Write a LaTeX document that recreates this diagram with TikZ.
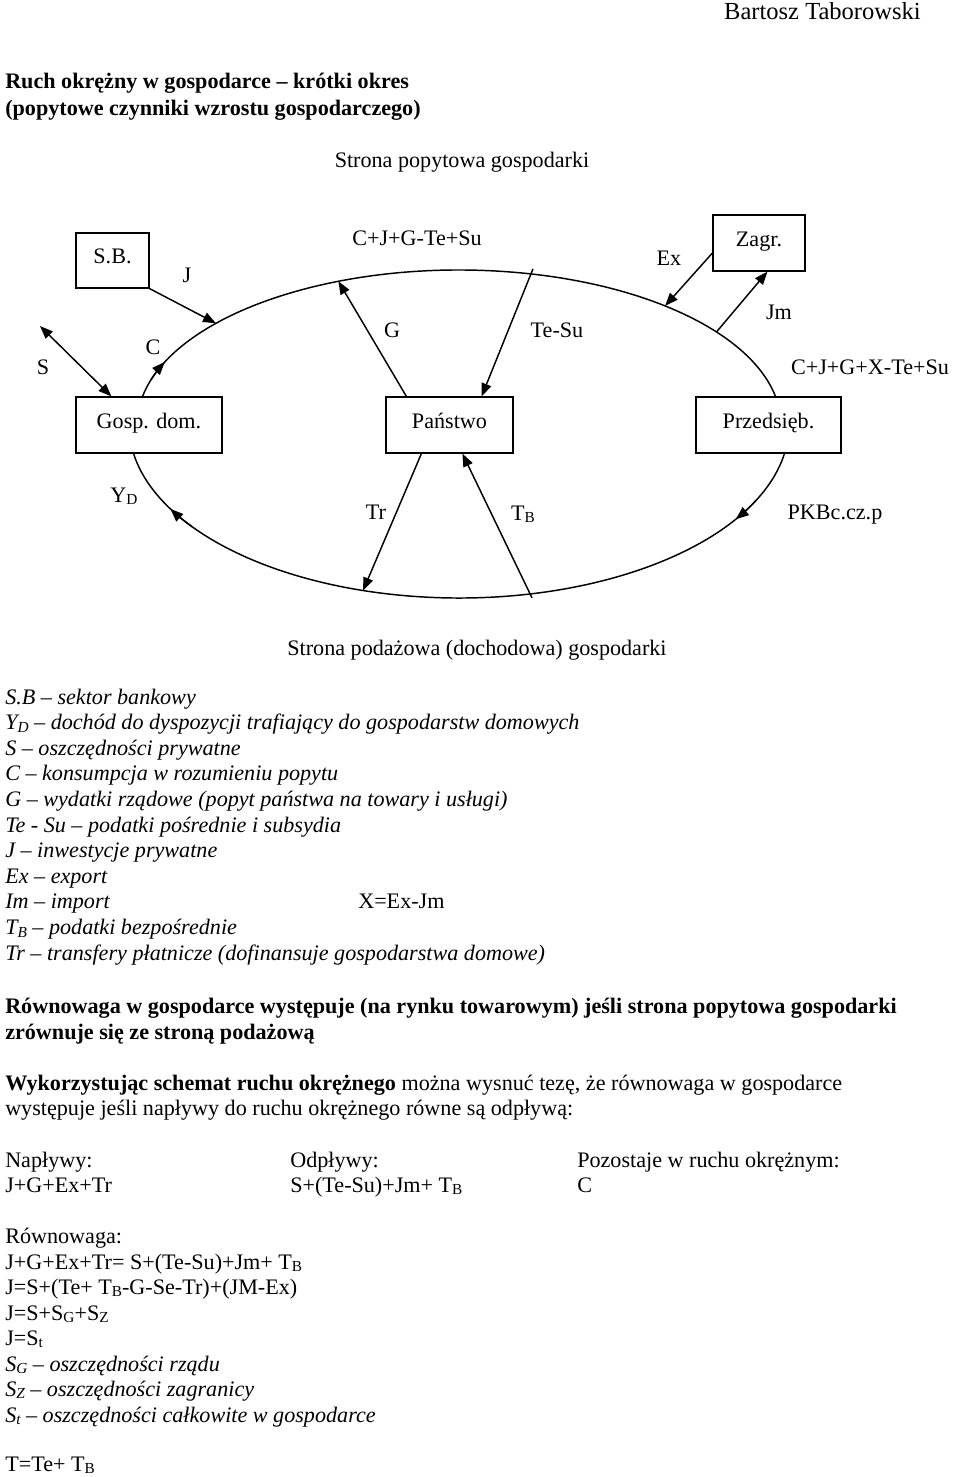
\documentclass[tikz,border=0pt]{standalone}
\usepackage{fontspec}
\setmainfont{Liberation Serif}
\usetikzlibrary{arrows.meta,calc}
\newcommand\lowr[1]{\raisebox{-0.28ex}{\fontsize{11.5}{12}\selectfont #1}}
\begin{document}
\begin{tikzpicture}[x=0.75pt,y=-0.75pt,
  font=\fontsize{16.6}{19.1}\selectfont,
  flow/.style={line width=1.1pt},
  arr/.style={line width=1.1pt,-{Triangle[length=9.75pt,width=7.5pt]}},
  dbl/.style={line width=1.1pt,{Triangle[length=9.75pt,width=7.5pt]}-{Triangle[length=9.75pt,width=7.5pt]}},
  box/.style={draw,line width=0.9pt,inner sep=0pt,minimum height=42pt,text height=10pt,text depth=5pt},
  lbl/.style={anchor=base,inner sep=0pt},
  txt/.style={anchor=base west,inner sep=0pt},
  ]
\useasboundingbox (0,0) rectangle (960,1477);
% header
\node[anchor=base east,inner sep=0pt,font=\fontsize{18.4}{21}\selectfont] (author) at (921,20) {Bartosz Taborowski};
\node[txt] (t1) at (5,89) {\bfseries Ruch okrężny w gospodarce – krótki okres};
\node[txt] (t2) at (5,115) {\bfseries (popytowe czynniki wzrostu gospodarczego)};
\node[lbl] (popyt) at (462,167) {Strona popytowa gospodarki};
% boxes
\node[box,minimum width=54.75pt,minimum height=41.25pt] (sb) at (112.5,260.5) {S.B.};
\node[box,minimum width=69pt] (zg) at (759,243) {Zagr.};
\node[box,minimum width=109.5pt] (gd) at (149,425) {Gosp. dom.};
\node[box,minimum width=95.25pt] (pa) at (449.5,425) {Państwo};
\node[box,minimum width=108.75pt] (pr) at (768.5,425) {Przedsięb.};
% points on the circular flow
\coordinate (ctr) at (459,425);
\coordinate (eGD) at ($(ctr)+(190.4:322 and 155)$);
\coordinate (eCs) at ($(ctr)+(197:322 and 155)$);
\coordinate (eJ)  at ($(ctr)+(221:322 and 155)$);
\coordinate (eG)  at ($(ctr)+(248:322 and 155)$);
\coordinate (eTS) at ($(ctr)+(283:322 and 155)$);
\coordinate (eEx) at ($(ctr)+(309.8:322 and 155)$);
\coordinate (eJm) at ($(ctr)+(323.1:322 and 155)$);
\coordinate (ePRb) at ($(ctr)+(9.3:330 and 173)$);
\coordinate (ePKBs) at ($(ctr)+(26:330 and 173)$);
\coordinate (eTB) at ($(ctr)+(77.4:330 and 173)$);
\coordinate (eTr) at ($(ctr)+(106.9:330 and 173)$);
\coordinate (eYDs) at ($(ctr)+(144:330 and 173)$);
\coordinate (sfree) at (40,326);
% circular flow arcs
\draw[flow] (eGD) arc[start angle=190.4,end angle=349.6,x radius=322,y radius=155];
\draw[arr] (eCs) arc[start angle=197,end angle=204,x radius=322,y radius=155];
\draw[flow] (ePRb) arc[start angle=9.3,end angle=170.7,x radius=330,y radius=173];
\draw[arr] (ePKBs) arc[start angle=26,end angle=33,x radius=330,y radius=173];
\draw[arr] (eYDs) arc[start angle=144,end angle=151,x radius=330,y radius=173];
% connectors
\draw[dbl] (sfree) -- ($(gd.north west)+(36,0)$);
\draw[arr] (sb.south east) -- (eJ);
\draw[arr] ($(pa.north west)+(21,0)$) -- (eG);
\draw[arr] ($(eTS)+(1.5,-5)$) -- ($(pa.north east)+(-32,0)$);
\draw[arr] ($(zg.west)+(0,10)$) -- (eEx);
\draw[arr] (eJm) -- ($(zg.south west)+(55,0)$);
\draw[arr] ($(pa.south west)+(36,0)$) -- (eTr);
\draw[arr] ($(eTB)+(1,4)$) -- ($(pa.south west)+(77,0)$);
% flow labels
\node[lbl] (lJ) at (187,282) {J};
\node[lbl] (lC) at (153,354) {C};
\node[lbl] (lS) at (43,374) {S};
\node[lbl] (lsum1) at (417,245) {C+J+G-Te+Su};
\node[lbl] (lG) at (392,337) {G};
\node[lbl] (lTS) at (557,337) {Te-Su};
\node[lbl] (lEx) at (669,265) {Ex};
\node[lbl] (lJm) at (779,319) {Jm};
\node[lbl] (lsum2) at (870,374) {C+J+G+X-Te+Su};
\node[lbl] (lYD) at (124,502) {Y\lowr{D}};
\node[lbl] (lTr) at (376,519) {Tr};
\node[lbl] (lTB) at (523,520) {T\lowr{B}};
\node[lbl] (lPKB) at (835,519) {PKBc.cz.p};
\node[lbl] (podaz) at (477,655) {Strona podażowa (dochodowa) gospodarki};
% legend
\node[txt] (g1) at (5,704) {\itshape S.B – sektor bankowy};
\node[txt] (g2) at (5,729.6) {\itshape Y\lowr{D} – dochód do dyspozycji trafiający do gospodarstw domowych};
\node[txt] (g3) at (5,755.2) {\itshape S – oszczędności prywatne};
\node[txt] (g4) at (5,780.8) {\itshape C – konsumpcja w rozumieniu popytu};
\node[txt] (g5) at (5,806.4) {\itshape G – wydatki rządowe (popyt państwa na towary i usługi)};
\node[txt] (g6) at (5,832) {\itshape Te - Su – podatki pośrednie i subsydia};
\node[txt] (g7) at (5,857.6) {\itshape J – inwestycje prywatne};
\node[txt] (g8) at (5,883.2) {\itshape Ex – export};
\node[txt] (g9) at (5,908.8) {\itshape Im – import};
\node[txt] (gx) at (358,908.8) {X=Ex-Jm};
\node[txt] (g10) at (5,934.4) {\itshape T\lowr{B} – podatki bezpośrednie};
\node[txt] (g11) at (5,960) {\itshape Tr – transfery płatnicze (dofinansuje gospodarstwa domowe)};
% paragraphs
\node[txt] (p1) at (5,1013) {\bfseries Równowaga w gospodarce występuje (na rynku towarowym) jeśli strona popytowa gospodarki};
\node[txt] (p2) at (5,1039) {\bfseries zrównuje się ze stroną podażową};
\node[txt] (p3) at (5,1090) {\textbf{Wykorzystując schemat ruchu okrężnego} można wysnuć tezę, że równowaga w gospodarce};
\node[txt] (p4) at (5,1115) {występuje jeśli napływy do ruchu okrężnego równe są odpływą:};
\node[txt] (n1) at (5,1167) {Napływy:};
\node[txt] (n2) at (5,1192) {J+G+Ex+Tr};
\node[txt] (o1) at (290,1167) {Odpływy:};
\node[txt] (o2) at (290,1192) {S+(Te-Su)+Jm+ T\lowr{B}};
\node[txt] (r1) at (577,1167) {Pozostaje w ruchu okrężnym:};
\node[txt] (r2) at (577,1192) {C};
\node[txt] (q1) at (5,1243) {Równowaga:};
\node[txt] (q2) at (5,1269) {J+G+Ex+Tr= S+(Te-Su)+Jm+ T\lowr{B}};
\node[txt] (q3) at (5,1294) {J=S+(Te+ T\lowr{B}-G-Se-Tr)+(JM-Ex)};
\node[txt] (q4) at (5,1320) {J=S+S\lowr{G}+S\lowr{Z}};
\node[txt] (q5) at (5,1345) {J=S\lowr{t}};
\node[txt] (q6) at (5,1371) {\itshape S\lowr{G} – oszczędności rządu};
\node[txt] (q7) at (5,1396) {\itshape S\lowr{Z} – oszczędności zagranicy};
\node[txt] (q8) at (5,1422) {\itshape S\lowr{t} – oszczędności całkowite w gospodarce};
\node[txt] (q9) at (5,1471) {T=Te+ T\lowr{B}};
\end{tikzpicture}
\end{document}
